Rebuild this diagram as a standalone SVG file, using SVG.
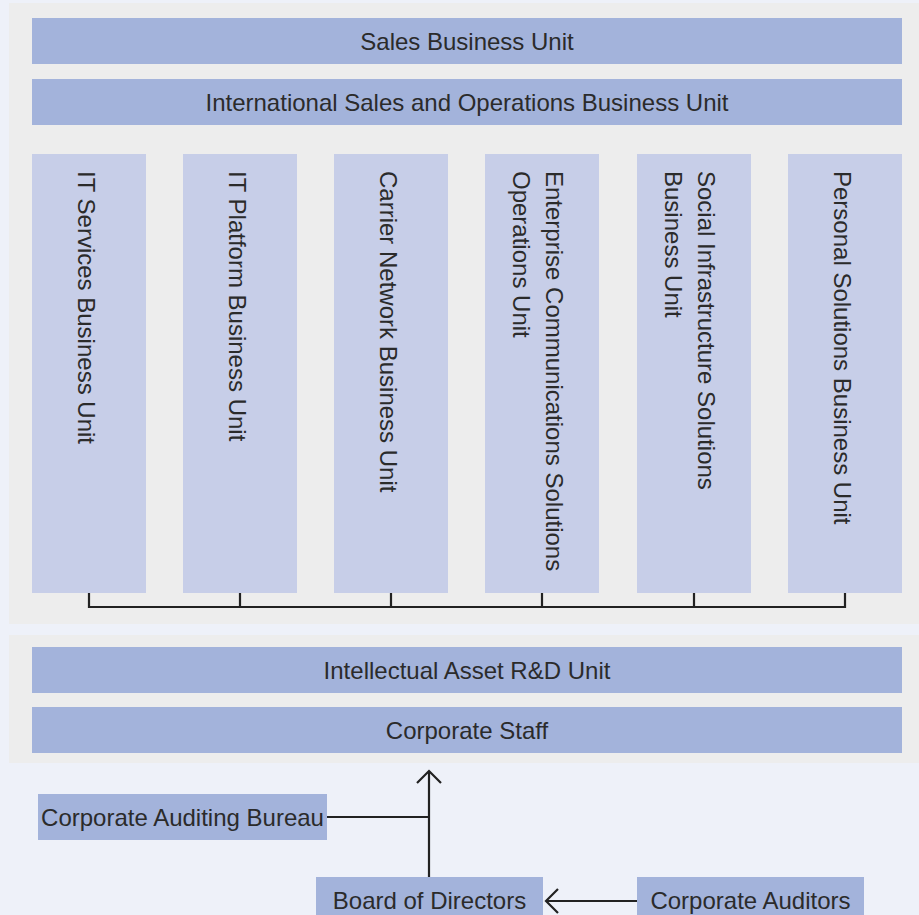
<svg xmlns="http://www.w3.org/2000/svg" width="919" height="915" viewBox="0 0 919 915">
  <style>
    .panel { fill: #EDEDED; }
    .bar { fill: #A3B3DB; }
    .col { fill: #C7CEE8; }
    .label { font-family: "Liberation Sans", Arial, sans-serif; font-size: 24px; fill: #2B2B2B; }
    .mid { text-anchor: middle; }
    .wire { fill: none; stroke: #222; stroke-width: 2.2; }
  </style>

  <!-- page background and grouping panels -->
  <rect x="0" y="0" width="919" height="915" fill="#EEF1F9"/>
  <rect class="panel" x="9" y="3" width="910" height="621"/>
  <rect class="panel" x="9" y="635" width="910" height="128"/>

  <!-- horizontal units -->
  <g id="sales-bu">
    <rect class="bar" x="32" y="18" width="870" height="46"/>
    <text class="label mid" x="467" y="50">Sales Business Unit</text>
  </g>
  <g id="intl-sales-ops-bu">
    <rect class="bar" x="32" y="79" width="870" height="46"/>
    <text class="label mid" x="467" y="111">International Sales and Operations Business Unit</text>
  </g>

  <!-- vertical business units -->
  <g id="it-services-bu">
    <rect class="col" x="32" y="154" width="114" height="439"/>
    <text class="label" transform="translate(78,171) rotate(90)">IT Services Business Unit</text>
  </g>
  <g id="it-platform-bu">
    <rect class="col" x="183" y="154" width="114" height="439"/>
    <text class="label" transform="translate(229,171) rotate(90)">IT Platform Business Unit</text>
  </g>
  <g id="carrier-network-bu">
    <rect class="col" x="334" y="154" width="114" height="439"/>
    <text class="label" transform="translate(380,171) rotate(90)">Carrier Network Business Unit</text>
  </g>
  <g id="enterprise-comm-ou">
    <rect class="col" x="485" y="154" width="114" height="439"/>
    <text class="label" transform="translate(546,171) rotate(90)">Enterprise Communications Solutions</text>
    <text class="label" transform="translate(513,171) rotate(90)">Operations Unit</text>
  </g>
  <g id="social-infra-bu">
    <rect class="col" x="637" y="154" width="114" height="439"/>
    <text class="label" transform="translate(698,171) rotate(90)">Social Infrastructure Solutions</text>
    <text class="label" transform="translate(665,171) rotate(90)">Business Unit</text>
  </g>
  <g id="personal-solutions-bu">
    <rect class="col" x="788" y="154" width="114" height="439"/>
    <text class="label" transform="translate(834,171) rotate(90)">Personal Solutions Business Unit</text>
  </g>

  <!-- lower units -->
  <g id="ip-rd-unit">
    <rect class="bar" x="32" y="647" width="870" height="46"/>
    <text class="label mid" x="467" y="679">Intellectual Asset R&amp;D Unit</text>
  </g>
  <g id="corporate-staff">
    <rect class="bar" x="32" y="707" width="870" height="46"/>
    <text class="label mid" x="467" y="739">Corporate Staff</text>
  </g>

  <!-- governance -->
  <g id="auditing-bureau">
    <rect class="bar" x="38" y="794" width="289" height="46"/>
    <text class="label mid" x="182.5" y="826">Corporate Auditing Bureau</text>
  </g>
  <g id="board">
    <rect class="bar" x="316" y="877" width="227" height="46"/>
    <text class="label mid" x="429.5" y="909">Board of Directors</text>
  </g>
  <g id="auditors">
    <rect class="bar" x="637" y="877" width="227" height="46"/>
    <text class="label mid" x="750.5" y="909">Corporate Auditors</text>
  </g>

  <!-- connectors -->
  <g id="connectors">
    <path class="wire" d="M89 593V607H845V593M240 593V607M391 593V607M542 593V607M694 593V607"/>
    <path class="wire" d="M429 877V771M417 783L429 771L441 783"/>
    <path class="wire" d="M327 817H429"/>
    <path class="wire" d="M637 901H546M558 889L546 901L558 913"/>
  </g>
</svg>
